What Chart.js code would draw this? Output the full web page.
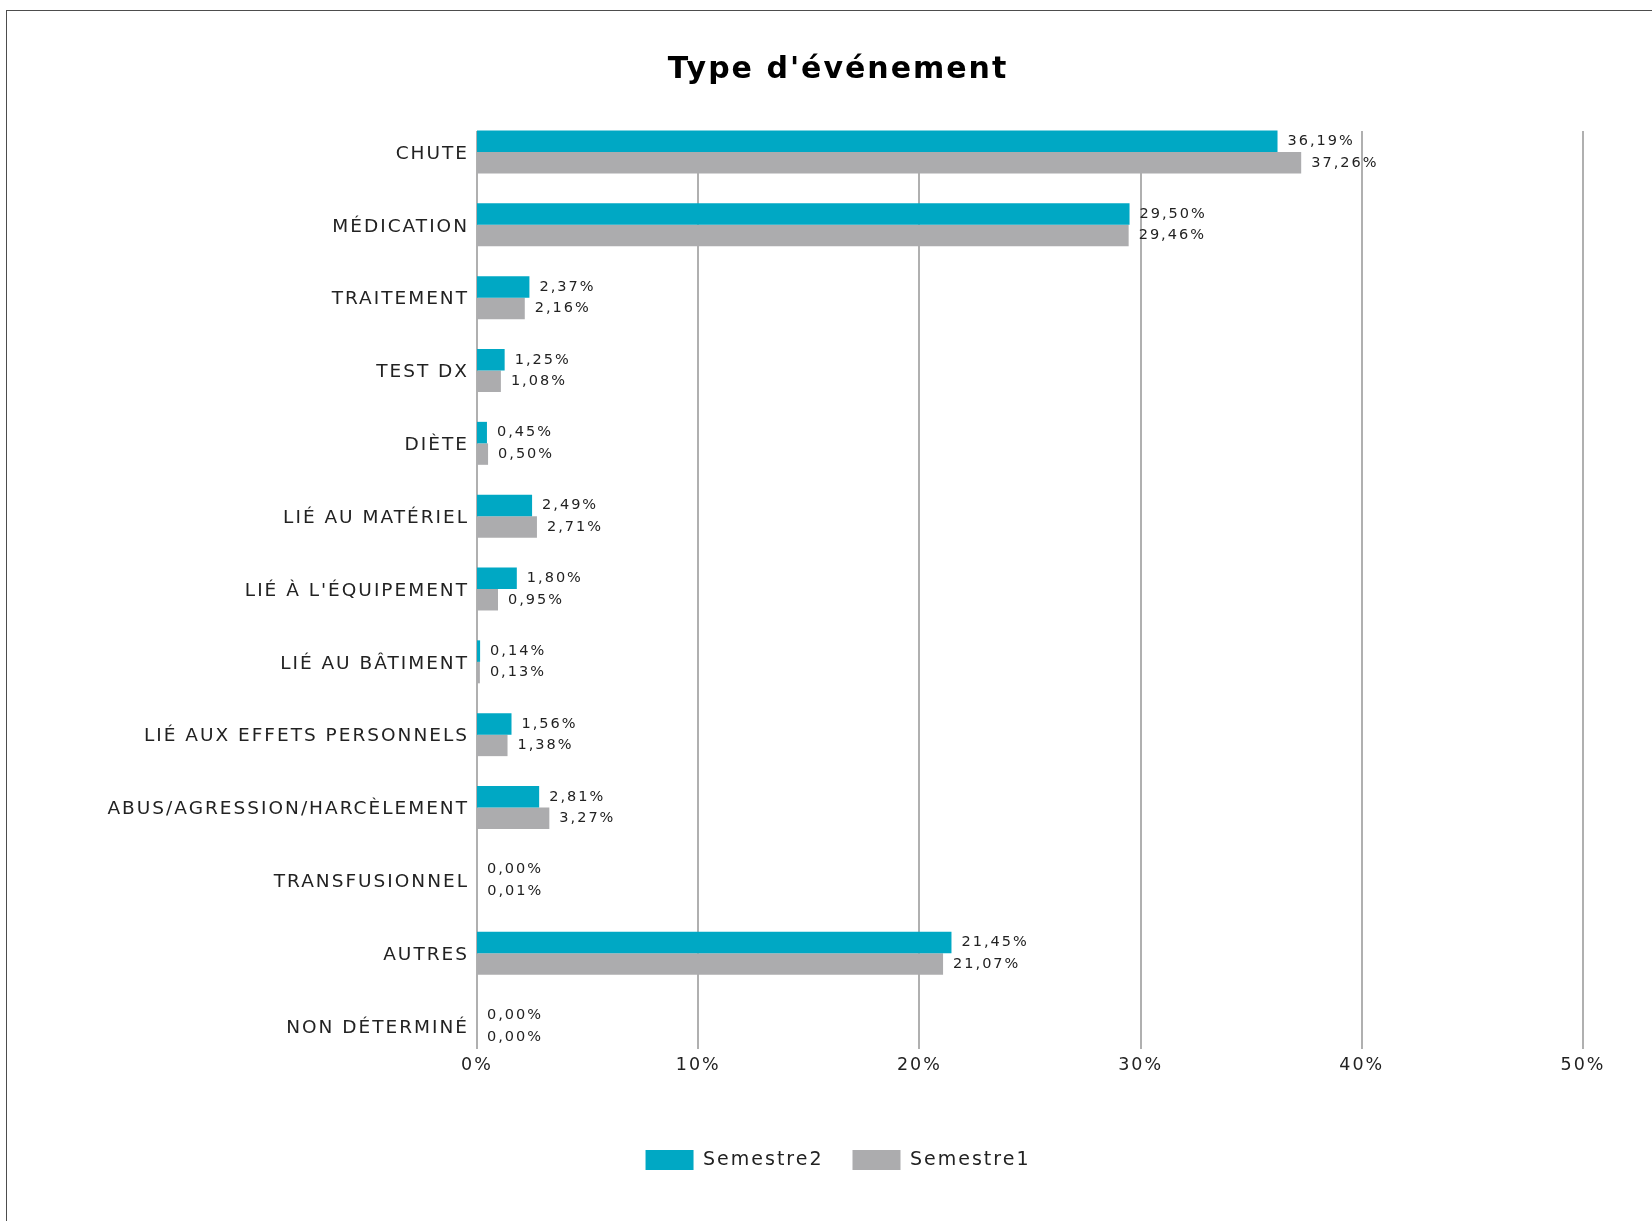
<!DOCTYPE html>
<html lang="fr">
<head>
<meta charset="utf-8">
<title>Type d'événement</title>
<script src="https://cdn.jsdelivr.net/npm/chart.js"></script>
<style>
    html, body { margin: 0; padding: 0; background: #fff; overflow: hidden; }
    .cadre {
        position: absolute; left: 6px; top: 10px; width: 1700px; height: 1300px;
        border-left: 1px solid #4d4d4d; border-top: 1px solid #4d4d4d;
    }
    #graphiqueEvenements { position: absolute; left: 0; top: 0; }
</style>
</head>
<body>
<div class="cadre"></div>
<canvas id="graphiqueEvenements" width="1652" height="1221"></canvas>
<script>
var categories = ['CHUTE', 'MÉDICATION', 'TRAITEMENT', 'TEST DX', 'DIÈTE', 'LIÉ AU MATÉRIEL',
    "LIÉ À L'ÉQUIPEMENT", 'LIÉ AU BÂTIMENT', 'LIÉ AUX EFFETS PERSONNELS',
    'ABUS/AGRESSION/HARCÈLEMENT', 'TRANSFUSIONNEL', 'AUTRES', 'NON DÉTERMINÉ'];
var semestre2 = [36.19, 29.50, 2.37, 1.25, 0.45, 2.49, 1.80, 0.14, 1.56, 2.81, 0.00, 21.45, 0.00];
var semestre1 = [37.26, 29.46, 2.16, 1.08, 0.50, 2.71, 0.95, 0.13, 1.38, 3.27, 0.01, 21.07, 0.00];
var graduations = [0, 10, 20, 30, 40, 50];

var couleurTexte = '#222222';

function formaterPourcentage(valeur) {
    return valeur.toFixed(2).replace('.', ',') + '%';
}

// espacement des lettres pour tous les textes du canevas
var espacement = {
    id: 'espacement',
    beforeUpdate: function (chart) { chart.ctx.letterSpacing = '2px'; },
    beforeDraw: function (chart) { chart.ctx.letterSpacing = '2px'; }
};

// lignes verticales du quadrillage, un peu plus longues que la zone des catégories
var quadrillage = {
    id: 'quadrillage',
    beforeDatasetsDraw: function (chart) {
        var ctx = chart.ctx;
        var axeX = chart.scales.x;
        var zone = chart.chartArea;
        ctx.save();
        ctx.strokeStyle = '#b0b0b0';
        ctx.lineWidth = 2;
        axeX.ticks.forEach(function (tick) {
            var px = Math.round(axeX.getPixelForValue(tick.value));
            ctx.beginPath();
            ctx.moveTo(px, zone.top - 21);
            ctx.lineTo(px, zone.bottom + 23);
            ctx.stroke();
        });
        ctx.restore();
    }
};

// valeur affichée au bout de chaque barre
var etiquettesValeurs = {
    id: 'etiquettesValeurs',
    afterDatasetsDraw: function (chart) {
        var ctx = chart.ctx;
        ctx.save();
        ctx.font = '14.5px "DejaVu Sans"';
        ctx.fillStyle = couleurTexte;
        ctx.textAlign = 'left';
        ctx.textBaseline = 'middle';
        chart.data.datasets.forEach(function (ds, i) {
            chart.getDatasetMeta(i).data.forEach(function (barre, j) {
                ctx.fillText(formaterPourcentage(ds.data[j]), barre.x + 10, barre.y);
            });
        });
        ctx.restore();
    }
};

Chart.defaults.font.family = '"DejaVu Sans", sans-serif';
Chart.defaults.color = couleurTexte;

var ctx = document.getElementById('graphiqueEvenements').getContext('2d');
window.graphique = new Chart(ctx, {
    type: 'bar',
    data: {
        labels: categories,
        datasets: [{
            label: 'Semestre2',
            data: semestre2,
            backgroundColor: '#00a8c4',
            borderWidth: 0,
            clip: false
        }, {
            label: 'Semestre1',
            data: semestre1,
            backgroundColor: '#acacae',
            borderWidth: 0,
            clip: false
        }]
    },
    options: {
        indexAxis: 'y',
        responsive: false,
        devicePixelRatio: 1,
        animation: false,
        categoryPercentage: 0.59,
        barPercentage: 1,
        layout: {
            padding: { top: 10, left: 93, right: 69, bottom: 41 }
        },
        scales: {
            x: {
                min: graduations[0],
                max: graduations[graduations.length - 1],
                grid: { display: false, drawTicks: false },
                border: { display: false },
                ticks: {
                    stepSize: graduations[1] - graduations[0],
                    padding: 29,
                    font: { size: 17.5 },
                    callback: function (v) { return v + '%'; }
                },
                afterFit: function (echelle) { echelle.height = 95; }
            },
            y: {
                offset: false,
                grid: { display: false, drawTicks: false },
                border: { display: true, color: '#b0b0b0', width: 2 },
                ticks: {
                    autoSkip: false,
                    padding: 8,
                    labelOffset: 2,
                    font: { size: 18.5 }
                },
                afterFit: function (echelle) { echelle.width = 384; }
            }
        },
        plugins: {
            title: {
                display: true,
                text: "Type d'événement",
                color: '#000',
                font: { size: 30, weight: 'bold' },
                padding: { top: 42, bottom: 64 }
            },
            legend: {
                position: 'bottom',
                labels: {
                    boxWidth: 48,
                    boxHeight: 20,
                    padding: 29,
                    font: { size: 19 }
                }
            },
            tooltip: { enabled: false }
        }
    },
    plugins: [espacement, quadrillage, etiquettesValeurs]
});
</script>
</body>
</html>
